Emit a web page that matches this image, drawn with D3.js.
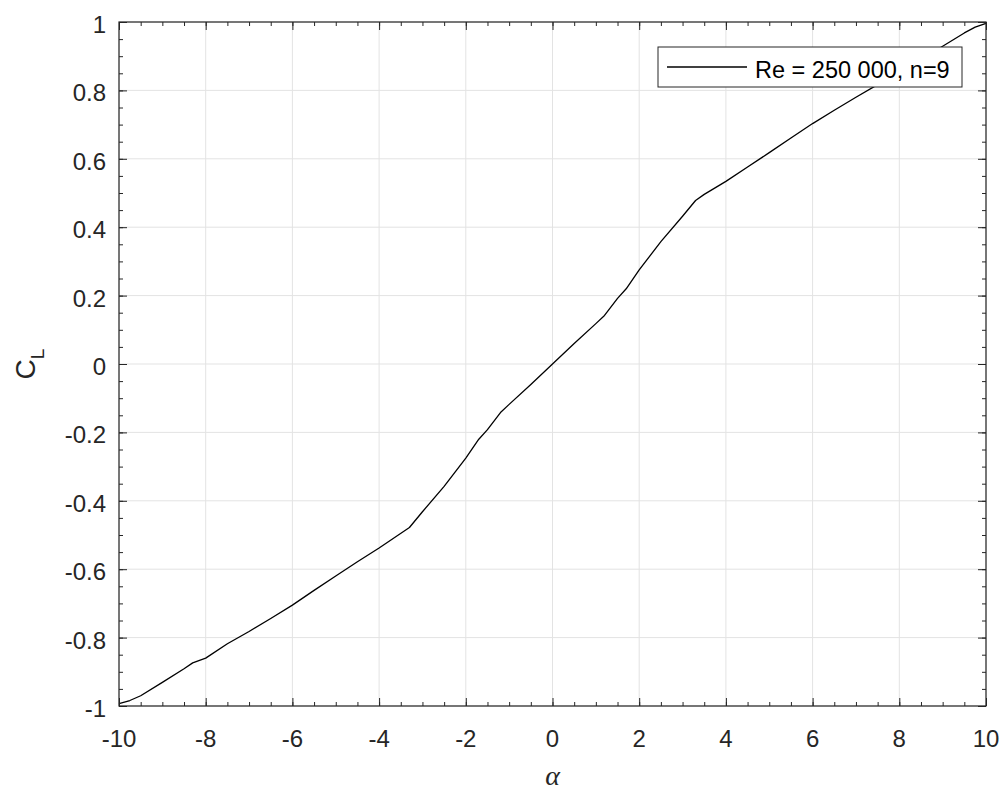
<!DOCTYPE html>
<html>
<head>
<meta charset="utf-8">
<script src="https://cdn.jsdelivr.net/npm/d3@7"></script>
<style>
  html, body { margin: 0; padding: 0; background: #fff; }
  svg { display: block; }
</style>
</head>
<body>
<svg id="chart" width="1006" height="793"></svg>
<script>
// ---- data ----
const alpha = [-10, -9.75, -9.5, -9, -8.5, -8.3, -8, -7.5, -7, -6.5, -6, -5.5, -5, -4.5, -4, -3.3, -3, -2.5, -2, -1.7, -1.5, -1.2, -1, -0.5,
  0, 0.5, 1, 1.2, 1.5, 1.7, 2, 2.5, 3, 3.3, 3.5, 4, 4.5, 5, 5.5, 6, 6.5, 7, 7.5, 8, 8.5, 9, 9.5, 9.75, 10];
const cl = [-0.993, -0.984, -0.970, -0.931, -0.891, -0.874, -0.860, -0.818, -0.782, -0.744, -0.705, -0.662, -0.620, -0.578, -0.538, -0.478, -0.432, -0.358, -0.275, -0.220, -0.192, -0.142, -0.118, -0.060,
  0, 0.060, 0.118, 0.142, 0.192, 0.220, 0.275, 0.358, 0.432, 0.478, 0.496, 0.534, 0.576, 0.618, 0.661, 0.703, 0.742, 0.780, 0.817, 0.854, 0.891, 0.929, 0.968, 0.985, 0.996];
const xTicks = [-10, -8, -6, -4, -2, 0, 2, 4, 6, 8, 10];
const yTicks = [-1, -0.8, -0.6, -0.4, -0.2, 0, 0.2, 0.4, 0.6, 0.8, 1];
const xTickLabels = ["-10", "-8", "-6", "-4", "-2", "0", "2", "4", "6", "8", "10"];
const yTickLabels = ["-1", "-0.8", "-0.6", "-0.4", "-0.2", "0", "0.2", "0.4", "0.6", "0.8", "1"];
const xMinor = d3.range(-10, 10.001, 0.5);
const yMinor = d3.range(-1, 1.0001, 0.05);
const legendLabel = "Re = 250 000, n=9";
const xLabel = "α";
const yLabelMain = "C";
const yLabelSub = "L";

// ---- layout ----
const L = 119, R = 986, T = 22, B = 706;
const axisColor = "#262626";
const svg = d3.select("#chart");
const x = d3.scaleLinear().domain([-10, 10]).range([L, R]);
const y = d3.scaleLinear().domain([-1, 1]).range([B, T]);

// grid
const grid = svg.append("g");
grid.selectAll("line.gx").data(xTicks).join("line")
  .attr("x1", d => x(d)).attr("x2", d => x(d)).attr("y1", T).attr("y2", B)
  .attr("stroke", "#e3e3e3").attr("stroke-width", 1);
grid.selectAll("line.gy").data(yTicks).join("line")
  .attr("y1", d => y(d)).attr("y2", d => y(d)).attr("x1", L).attr("x2", R)
  .attr("stroke", "#e3e3e3").attr("stroke-width", 1);

// curve
const line = d3.line().x((d, i) => x(alpha[i])).y(d => y(d));
svg.append("path").datum(cl).attr("d", line)
  .attr("fill", "none").attr("stroke", "#000").attr("stroke-width", 1.3)
  .attr("stroke-linejoin", "round");

// axes (box with inward ticks on all sides)
function ticksFor(axisGen, transform, major, minor) {
  const gMinor = svg.append("g").attr("transform", transform)
    .call(axisGen.tickValues(minor).tickSize(4).tickFormat(""));
  gMinor.select(".domain").remove();
  gMinor.selectAll("line").attr("stroke", axisColor);
  const gMajor = svg.append("g").attr("transform", transform)
    .call(axisGen.tickValues(major).tickSize(8).tickFormat(""));
  gMajor.select(".domain").remove();
  gMajor.selectAll("line").attr("stroke", axisColor);
}
ticksFor(d3.axisTop(x), `translate(0,${B})`, xTicks, xMinor);
ticksFor(d3.axisBottom(x), `translate(0,${T})`, xTicks, xMinor);
ticksFor(d3.axisRight(y), `translate(${L},0)`, yTicks, yMinor);
ticksFor(d3.axisLeft(y), `translate(${R},0)`, yTicks, yMinor);

svg.append("rect").attr("x", L).attr("y", T).attr("width", R - L).attr("height", B - T)
  .attr("fill", "none").attr("stroke", axisColor).attr("stroke-width", 1.2);

// tick labels
const font = "'Liberation Sans', Arial, Helvetica, sans-serif";
svg.append("g").selectAll("text").data(xTicks).join("text")
  .attr("x", d => x(d)).attr("y", B + 41)
  .attr("text-anchor", "middle").attr("font-family", font).attr("font-size", 24)
  .attr("fill", axisColor).text((d, i) => xTickLabels[i]);
svg.append("g").selectAll("text").data(yTicks).join("text")
  .attr("x", L - 13).attr("y", d => y(d) + 11)
  .attr("text-anchor", "end").attr("font-family", font).attr("font-size", 24)
  .attr("fill", axisColor).text((d, i) => yTickLabels[i]);

// axis labels
svg.append("text")
  .attr("x", (L + R) / 2).attr("y", 785)
  .attr("text-anchor", "middle")
  .attr("font-family", "'Liberation Serif', 'DejaVu Serif', serif")
  .attr("font-style", "italic").attr("font-size", 28)
  .attr("fill", axisColor).text(xLabel);

const yl = svg.append("text")
  .attr("transform", `translate(35,${(T + B) / 2}) rotate(-90)`)
  .attr("text-anchor", "middle").attr("font-family", font).attr("fill", axisColor);
yl.append("tspan").attr("font-size", 28).text(yLabelMain);
yl.append("tspan").attr("font-size", 19).attr("dy", 9).text(yLabelSub);

// legend
const lg = svg.append("g");
lg.append("rect").attr("x", 658).attr("y", 47).attr("width", 304).attr("height", 40)
  .attr("fill", "#fff").attr("stroke", axisColor).attr("stroke-width", 1);
lg.append("line").attr("x1", 667).attr("x2", 747).attr("y1", 67).attr("y2", 67)
  .attr("stroke", "#000").attr("stroke-width", 1.3);
lg.append("text").attr("x", 755).attr("y", 78)
  .attr("font-family", font).attr("font-size", 23.5).attr("fill", "#000")
  .text(legendLabel);
</script>
</body>
</html>
